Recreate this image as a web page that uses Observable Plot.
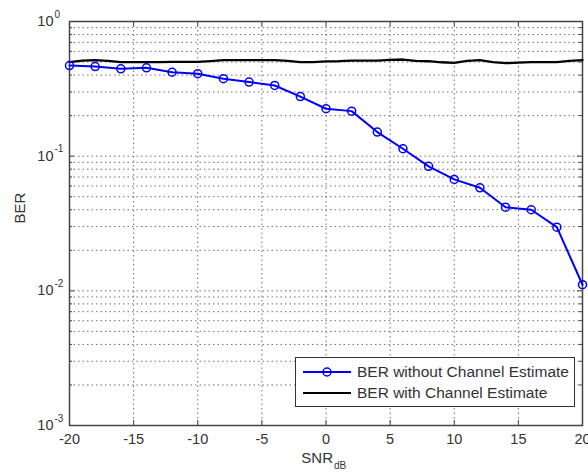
<!DOCTYPE html>
<html><head><meta charset="utf-8">
<script src="https://cdn.jsdelivr.net/npm/d3@7"></script>
<script src="https://cdn.jsdelivr.net/npm/@observablehq/plot@0.6"></script>
<style>
body{margin:0;background:#fff;font-family:"Liberation Sans",Arial,sans-serif;}
#wrap{position:relative;width:588px;height:473px;}
#legend{position:absolute;left:295px;top:357px;width:280px;height:50px;border:1.5px solid #333;background:#fff;box-sizing:border-box;font-size:15.5px;color:#333;}
.row{position:absolute;left:0;height:20px;display:flex;align-items:center;white-space:nowrap;}
.row svg{margin-left:7px;margin-right:6px;}
</style></head><body><div id="wrap"></div>
<script>
// SNR in dB for the blue series (markers every 2 dB)
const snr = [-20,-18,-16,-14,-12,-10,-8,-6,-4,-2,0,2,4,6,8,10,12,14,16,18,20];
const berWithout = [0.471,0.463,0.445,0.453,0.420,0.410,0.376,0.355,0.335,0.277,0.225,0.216,0.151,0.1135,0.084,0.0672,0.0582,0.0418,0.0400,0.0297,0.0111];
// black series, sampled every 1 dB
const snrFine = [-20,-19,-18,-17,-16,-15,-14,-13,-12,-11,-10,-9,-8,-7,-6,-5,-4,-3,-2,-1,0,1,2,3,4,5,6,7,8,9,10,11,12,13,14,15,16,17,18,19,20];
const berWith = [0.499,0.512,0.516,0.510,0.499,0.499,0.499,0.500,0.502,0.502,0.502,0.508,0.516,0.516,0.516,0.516,0.516,0.510,0.499,0.499,0.505,0.507,0.513,0.513,0.513,0.518,0.522,0.510,0.507,0.498,0.4935,0.510,0.516,0.500,0.490,0.495,0.499,0.499,0.499,0.510,0.516];
const xTicks = [-20,-15,-10,-5,0,5,10,15,20];
const xGrid = [-15,-10,-5,0,5,10,15];
const yDecades = [1,0.1,0.01,0.001];
const yExponents = ["0","-1","-2","-3"];
const yMinor = [0.002,0.003,0.004,0.005,0.006,0.007,0.008,0.009,0.02,0.03,0.04,0.05,0.06,0.07,0.08,0.09,0.2,0.3,0.4,0.5,0.6,0.7,0.8,0.9];
const legendLabels = ["BER without Channel Estimate","BER with Channel Estimate"];

const W = 588, H = 473, ML = 69, MR = 6, MT = 21, MB = 48;
const PW = W - ML - MR, PH = H - MT - MB;
const blueData = snr.map((x,i)=>({x, y: berWithout[i]}));
const blackData = snrFine.map((x,i)=>({x, y: berWith[i]}));
const gridStyle = {stroke:"#707070", strokeOpacity:1, strokeDasharray:"1.5,3"};
const tickStroke = "#444";

const chart = Plot.plot({
  width: W, height: H,
  marginLeft: ML, marginRight: MR, marginTop: MT, marginBottom: MB,
  style: {fontFamily:"'Liberation Sans', Arial, sans-serif", fontSize:"14px", color:"#333", background:"white"},
  x: {domain:[-20,20]},
  y: {type:"log", domain:[0.001,1], axis:null},
  marks: [
    Plot.gridX(xGrid, gridStyle),
    Plot.gridY(yDecades.slice(1,3), gridStyle),
    Plot.gridY(yMinor, gridStyle),
    Plot.ruleX(xTicks, {insetTop: PH-5, stroke:tickStroke}),
    Plot.ruleX(xTicks, {insetBottom: PH-5, stroke:tickStroke}),
    Plot.ruleY(yDecades, {insetRight: PW-5, stroke:tickStroke}),
    Plot.ruleY(yDecades, {insetLeft: PW-5, stroke:tickStroke}),
    Plot.ruleY(yMinor, {insetRight: PW-3, stroke:tickStroke}),
    Plot.ruleY(yMinor, {insetLeft: PW-3, stroke:tickStroke}),
    Plot.frame({stroke:"#444", strokeWidth:1.5}),
    Plot.line(blackData, {x:"x", y:"y", stroke:"black", strokeWidth:2.3}),
    Plot.line(blueData, {x:"x", y:"y", stroke:"#0000ff", strokeWidth:2}),
    Plot.dot(blueData, {x:"x", y:"y", r:4, stroke:"#0000ff", strokeWidth:1.5, fill:"none"}),
    Plot.axisX(xTicks, {tickSize:0, tickPadding:8, tickFormat:d=>String(d), fontSize:14.5, label:null, fill:"#333"}),
    Plot.text(yDecades, {y:d=>d, text:()=>"10", frameAnchor:"left", dx:-16, textAnchor:"end", fontSize:14.5, fill:"#333"}),
    Plot.text(yDecades, {y:d=>d, text:(d,i)=>yExponents[i], frameAnchor:"left", dx:-15, dy:-7, textAnchor:"start", fontSize:10, fill:"#333"}),
    Plot.text(["BER"], {text:d=>d, frameAnchor:"left", dx:-49, rotate:-90, fontSize:15, fill:"#333"}),
    Plot.text(["SNR"], {text:d=>d, frameAnchor:"bottom", dx:7, dy:37, textAnchor:"end", fontSize:15, fill:"#333"}),
    Plot.text(["dB"], {text:d=>d, frameAnchor:"bottom", dx:8, dy:43, textAnchor:"start", fontSize:10, fill:"#333"})
  ]
});
const wrap = document.getElementById("wrap");
wrap.appendChild(chart);

// legend
const leg = document.createElement("div");
leg.id = "legend";
const styles = [{stroke:"#0000ff", marker:true},{stroke:"black", marker:false}];
legendLabels.forEach((lab,i)=>{
  const row = document.createElement("div");
  row.className = "row";
  row.style.top = (i===0 ? 4 : 25) + "px";
  const s = styles[i];
  row.innerHTML = `<svg width="48" height="12"><line x1="0" x2="48" y1="6" y2="6" stroke="${s.stroke}" stroke-width="2"/>${s.marker?`<circle cx="24" cy="6" r="4" fill="none" stroke="${s.stroke}" stroke-width="1.5"/>`:""}</svg><span>${lab}</span>`;
  leg.appendChild(row);
});
wrap.appendChild(leg);
</script>
</body></html>
